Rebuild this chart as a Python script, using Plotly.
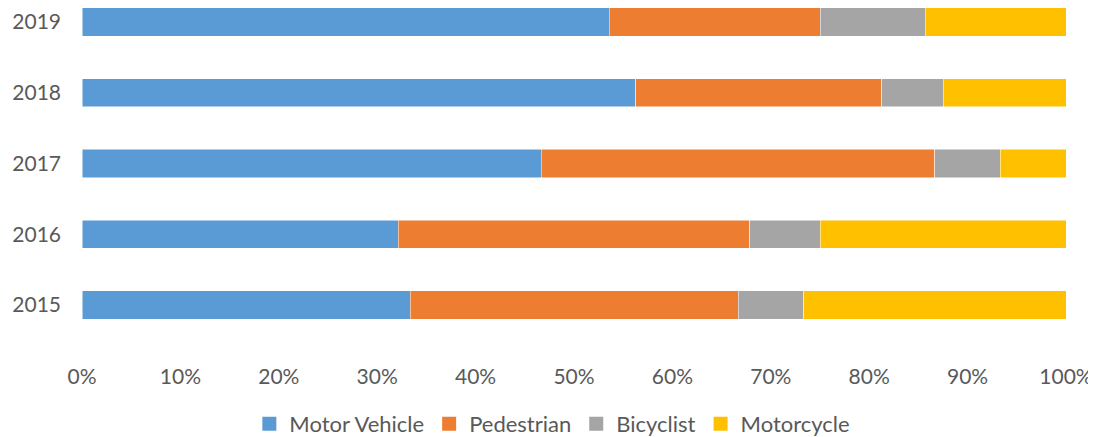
import plotly.graph_objects as go

# yearly counts by road-user type (shown as share of the year's total)
years = ["2015", "2016", "2017", "2018", "2019"]
motor_vehicle = [5, 9, 7, 9, 15]
pedestrian = [5, 10, 6, 4, 6]
bicyclist = [1, 2, 1, 1, 3]
motorcycle = [4, 7, 1, 2, 4]

series = [
    ("Motor Vehicle", motor_vehicle, "#5B9BD5"),
    ("Pedestrian", pedestrian, "#ED7D31"),
    ("Bicyclist", bicyclist, "#A5A5A5"),
    ("Motorcycle", motorcycle, "#FFC000"),
]

fig = go.Figure()
for name, vals, col in series:
    fig.add_trace(go.Bar(
        y=years, x=vals, name=name, orientation="h", showlegend=False,
        marker=dict(color=col, line=dict(color="white", width=0.5)),
    ))
# bigger square keys for the legend
for name, vals, col in series:
    fig.add_trace(go.Scatter(
        x=[None], y=[None], mode="markers", name=name,
        marker=dict(symbol="square", size=14, color=col),
    ))

# page body has an 8px margin, so the figure is a bit smaller than the window
fig.update_layout(
    barmode="stack",
    barnorm="percent",
    bargap=0.6,
    width=1088, height=429,
    margin=dict(l=74, r=30, t=0, b=97, autoexpand=False),
    plot_bgcolor="white", paper_bgcolor="white",
    font=dict(family="Lato", size=21, color="#595959"),
    legend=dict(orientation="h", x=0.478, xanchor="center", y=-0.253, yanchor="middle",
                traceorder="normal", font=dict(size=22, color="#595959"),
                itemwidth=30),
    xaxis=dict(range=[0, 100], tickvals=list(range(0, 101, 10)),
               ticktext=[f"{v}%" for v in range(0, 101, 10)], automargin=False,
               showgrid=False, zeroline=False, showline=False, ticklabelstandoff=22),
    yaxis=dict(categoryorder="array", categoryarray=years, range=[-0.494, 4.198],
               automargin=False,
               showgrid=False, zeroline=False, showline=False, ticklabelstandoff=20),
)

fig.write_html("out.html")
